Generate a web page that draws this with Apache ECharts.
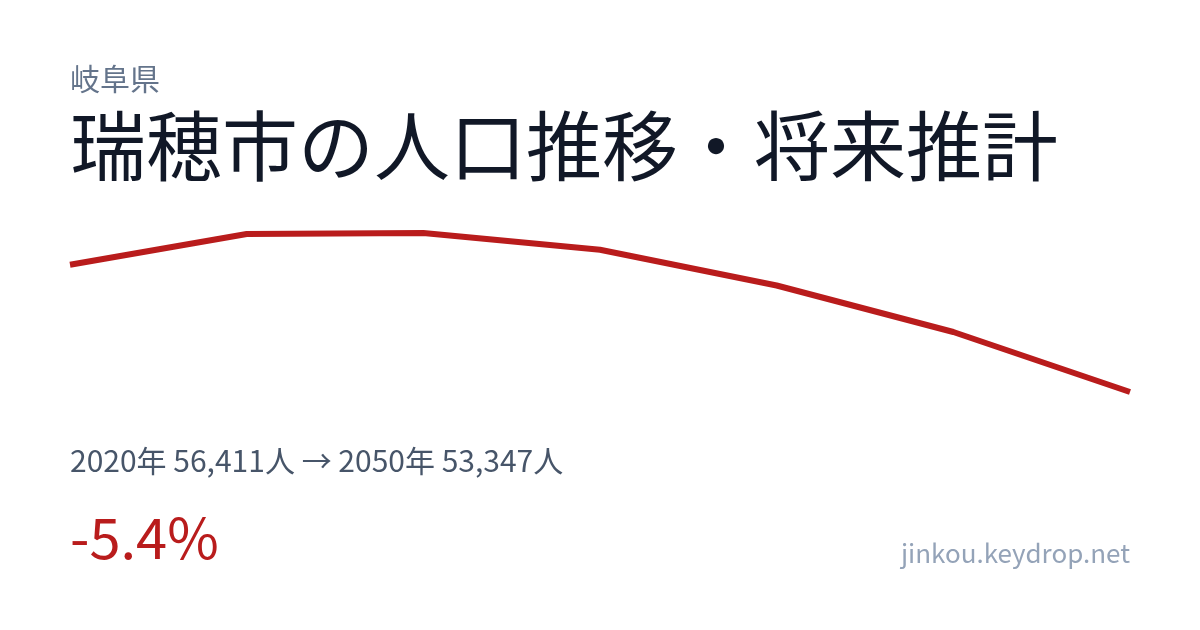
<!DOCTYPE html>
<html>
<head>
<meta charset="utf-8">
<script src="https://cdn.jsdelivr.net/npm/echarts@6/dist/echarts.min.js"></script>
<style>
  html, body { margin: 0; padding: 0; background: #fff; }
  #main { width: 1200px; height: 630px; }
</style>
</head>
<body>
<div id="main"></div>
<script>
// 人口データ（2020年実績・以降推計）
var years = ['2020', '2025', '2030', '2035', '2040', '2045', '2050'];
var population = [56411, 57150, 57174, 56772, 55910, 54791, 53347];

var prefName = '岐阜県';
var titleText = '瑞穂市の人口推移・将来推計';
var summaryText = '2020年 56,411人 → 2050年 53,347人';
var changeText = '-5.4%';
var siteText = 'jinkou.keydrop.net';

var font = '"Noto Sans CJK JP", "Noto Sans", sans-serif';

var myChart = echarts.init(document.getElementById('main'));
var option = {
    backgroundColor: '#ffffff',
    animation: false,
    grid: {
        left: 70,
        right: 70,
        top: 233,
        bottom: 238
    },
    xAxis: {
        type: 'category',
        boundaryGap: false,
        data: years,
        show: false
    },
    yAxis: {
        type: 'value',
        min: function (v) { return v.min; },
        max: function (v) { return v.max; },
        show: false
    },
    series: [{
        type: 'line',
        data: population,
        symbol: 'none',
        lineStyle: {
            color: '#b91c1c',
            width: 6,
            join: 'round'
        }
    }],
    graphic: [
        {
            type: 'text', left: 70, top: 64,
            style: { text: prefName, font: '30px ' + font, fill: '#64748b' }
        },
        {
            type: 'text', left: 70, top: 108,
            style: { text: titleText, font: '76px ' + font, fill: '#111827' }
        },
        {
            type: 'text', left: 70, top: 446,
            style: { text: summaryText, font: '30px ' + font, fill: '#475569' }
        },
        {
            type: 'text', left: 70, top: 510,
            style: { text: changeText, font: '56px ' + font, fill: '#b91c1c' }
        },
        {
            type: 'text', right: 70, top: 540,
            style: { text: siteText, font: '26px ' + font, fill: '#94a3b8' }
        }
    ]
};
myChart.setOption(option);
</script>
</body>
</html>
